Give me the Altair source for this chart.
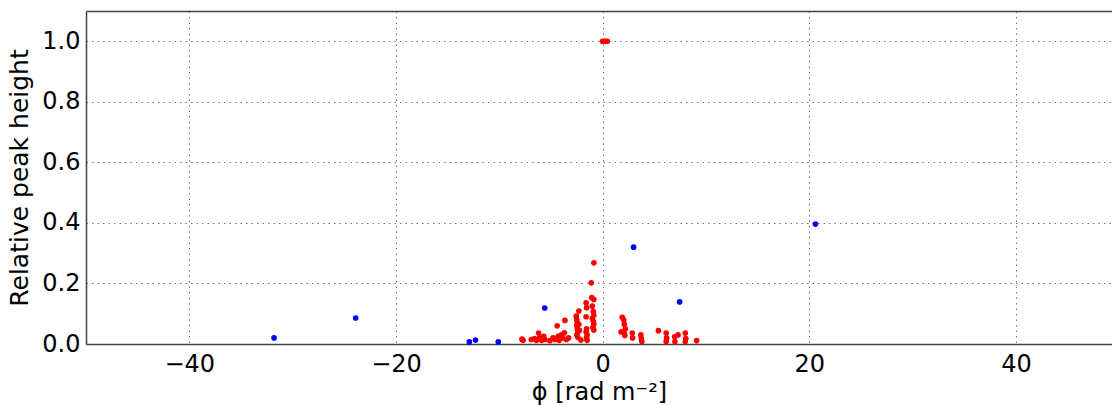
import altair as alt
import pandas as pd

# Blue points (phi, relative peak height)
blue_x = [-31.8, -23.9, -12.9, -12.3, -10.1, -5.6, 3.0, 7.45, 20.6]
blue_y = [0.020, 0.086, 0.007, 0.013, 0.007, 0.119, 0.320, 0.139, 0.396]

# Red points
red_x = [0.0, 0.15, 0.3, 0.45,
         -7.8, -7.7, -6.9, -6.6, -6.4, -6.2, -6.1, -5.9, -5.7, -5.6,
         -5.1, -4.8, -4.6, -4.4, -4.3, -4.2, -4.0, -3.9, -3.7, -3.65, -3.5, -3.3,
         -2.55, -2.5, -2.45, -2.5, -2.45, -2.4, -2.5, -2.4, -2.3, -2.3, -2.25, -2.1,
         -1.6, -1.6, -1.55, -1.6, -1.5, -1.55, -1.5, -1.55,
         -1.1, -0.84, -1.05, -0.85, -1.0, -0.9, -0.85, -1.0, -0.9, -0.85, -0.95, -0.85,
         1.9, 2.05, 2.1, 2.2, 2.1, 1.8, 2.15,
         2.87, 2.9, 3.7, 3.75, 3.8,
         5.4, 6.15, 6.2, 6.15, 6.97, 7.0, 7.3, 8.0, 8.05, 8.0, 9.1]
red_y = [1.0, 1.0, 1.0, 1.0,
         0.016, 0.012, 0.015, 0.018, 0.012, 0.036, 0.02, 0.012, 0.025, 0.015,
         0.011, 0.02, 0.015, 0.060, 0.025, 0.012, 0.03, 0.02, 0.037, 0.078, 0.015, 0.02,
         0.092, 0.08, 0.07, 0.06, 0.05, 0.04, 0.03, 0.022, 0.109, 0.065, 0.045, 0.013,
         0.136, 0.09, 0.05, 0.04, 0.03, 0.02, 0.012, 0.12,
         0.202, 0.268, 0.153, 0.147, 0.125, 0.107, 0.095, 0.085, 0.075, 0.065, 0.055, 0.046,
         0.088, 0.079, 0.065, 0.05, 0.035, 0.04, 0.028,
         0.036, 0.02, 0.03, 0.018, 0.008,
         0.044, 0.036, 0.02, 0.008, 0.024, 0.008, 0.03, 0.036, 0.018, 0.008, 0.011]

df = pd.concat([
    pd.DataFrame({"phi": red_x, "h": red_y, "s": "red"}),
    pd.DataFrame({"phi": blue_x, "h": blue_y, "s": "blue"}),
])

FONT = "DejaVu Sans"
xscale = alt.Scale(domain=[-50, 49.3], nice=False, zero=False)
yscale = alt.Scale(domain=[0, 1.1], nice=False)

points = alt.Chart(df).mark_circle(size=32, opacity=1).encode(
    x=alt.X("phi:Q", scale=xscale,
            axis=alt.Axis(title="ϕ [rad m⁻²]", values=[-40, -20, 0, 20, 40],
                          grid=True, gridDash=[1.5, 4], gridColor="#777",
                          domainColor="#444", domainWidth=1.5,
                          ticks=False, labelPadding=8, labelFontSize=24,
                          titleFontSize=24, titleFontWeight="normal",
                          labelFont=FONT, titleFont=FONT, labelColor="black",
                          titleColor="black", titlePadding=4)),
    y=alt.Y("h:Q", scale=yscale,
            axis=alt.Axis(title="Relative peak height", values=[0, 0.2, 0.4, 0.6, 0.8, 1.0],
                          format=".1f",
                          grid=True, gridDash=[1.5, 4], gridColor="#777",
                          domainColor="#444", domainWidth=1.5,
                          ticks=False, labelPadding=6, labelFontSize=24,
                          titleFontSize=25, titleFontWeight="normal",
                          labelFont=FONT, titleFont=FONT, labelColor="black",
                          titleColor="black", titlePadding=9)),
    color=alt.Color("s:N", scale=alt.Scale(domain=["red", "blue"], range=["#ff0000", "#0000ff"]),
                    legend=None),
    order=alt.Order("s:N", sort="descending"),
)

top = alt.Chart(df).mark_circle(opacity=0).encode(
    x=alt.X("phi:Q", scale=xscale,
            axis=alt.Axis(orient="top", title=None, labels=False, ticks=False, grid=False,
                          domainColor="#444", domainWidth=1.5)),
)

chart = alt.layer(points, top).resolve_axis(x="independent").properties(
    width=1026, height=333,
    autosize=alt.AutoSizeParams(type="none"),
    padding={"left": 86, "top": 11, "right": 0, "bottom": 61},
).configure_view(stroke=None).configure(background="white")

chart.save("out.html", embed_options={"renderer": "svg", "actions": False})
